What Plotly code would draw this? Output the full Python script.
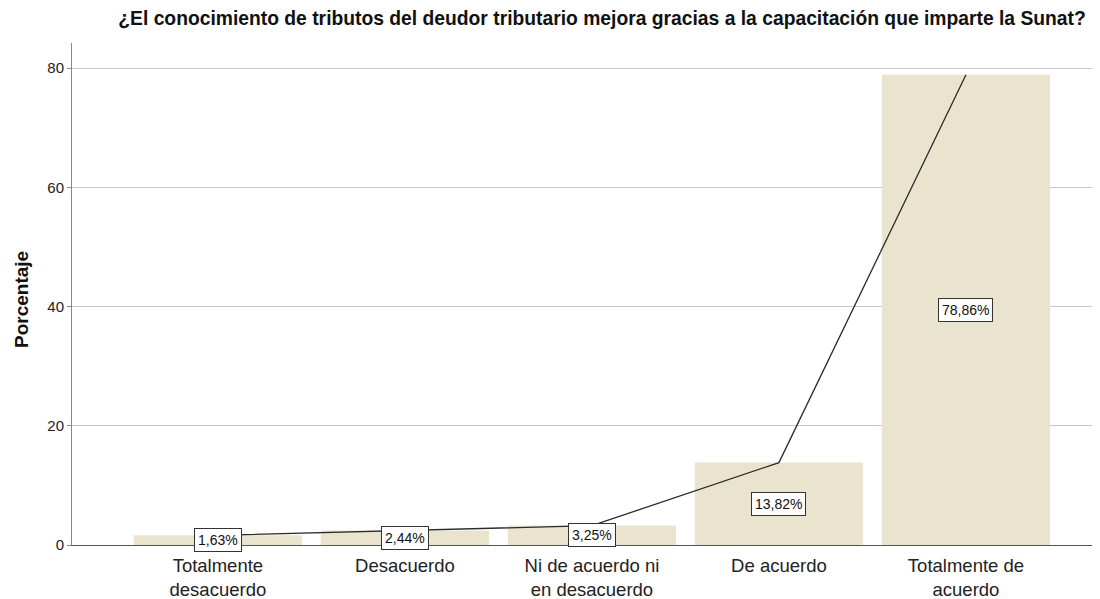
import plotly.graph_objects as go

categorias = ['Totalmente desacuerdo', 'Desacuerdo', 'Ni de acuerdo ni en desacuerdo', 'De acuerdo', 'Totalmente de acuerdo']
etiquetas = ['Totalmente<br>desacuerdo', 'Desacuerdo', 'Ni de acuerdo ni<br>en desacuerdo', 'De acuerdo', 'Totalmente de<br>acuerdo']
porcentajes = [1.63, 2.44, 3.25, 13.82, 78.86]
textos = ['1,63%', '2,44%', '3,25%', '13,82%', '78,86%']

FUENTE = 'Liberation Sans, Arial'

fig = go.Figure()
fig.add_trace(go.Bar(
    x=categorias, y=porcentajes,
    marker=dict(color='#EAE4CF', line=dict(width=0)),
    width=0.9, hoverinfo='skip'
))
fig.add_trace(go.Scatter(
    x=categorias, y=porcentajes, mode='lines',
    line=dict(color='#2b2b2b', width=1.3), hoverinfo='skip'
))

# etiquetas con recuadro en la mitad de cada barra
for c, v, t in zip(categorias, porcentajes, textos):
    fig.add_annotation(
        x=c, y=max(v / 2, 0.7), text=t, showarrow=False,
        font=dict(family=FUENTE, size=14, color='#111'),
        bgcolor='white', bordercolor='#333', borderwidth=1, borderpad=3
    )

# título del eje y como anotación (más cerca del borde que el título del eje)
fig.add_annotation(
    xref='paper', yref='paper', x=-0.0499, y=0.49,
    xanchor='center', yanchor='middle', textangle=-90, showarrow=False,
    text='<b>Porcentaje</b>', font=dict(family=FUENTE, size=19, color='#111')
)

# la página tiene 8px de margen en el body: se compensa en el tamaño
fig.update_layout(
    title=dict(
        text='<b>¿El conocimiento de tributos del deudor tributario mejora gracias a la capacitación que imparte la Sunat?</b>',
        x=0.544, xanchor='center', y=0.983, yanchor='middle',
        font=dict(family=FUENTE, size=19.3, color='#111')
    ),
    width=1092, height=591,
    margin=dict(l=64, r=5, t=35, b=54),
    plot_bgcolor='white', paper_bgcolor='white',
    showlegend=False, bargap=0.1,
    font=dict(family=FUENTE, color='#222')
)
fig.update_xaxes(
    range=[-0.78, 4.69], tickvals=categorias, ticktext=etiquetas,
    showline=True, linecolor='#555', linewidth=1, showgrid=False,
    ticks='', tickfont=dict(size=18.5, color='#222'), automargin=False,
    ticklabelstandoff=4
)
fig.update_yaxes(
    range=[0, 84.2], tickvals=[0, 20, 40, 60, 80],
    showline=True, linecolor='#888', linewidth=1,
    showgrid=True, gridcolor='#c8c8c8', gridwidth=1,
    ticks='outside', ticklen=4, tickcolor='#888',
    tickfont=dict(size=15, color='#222'), zeroline=False, automargin=False
)

fig.write_html('out.html')
